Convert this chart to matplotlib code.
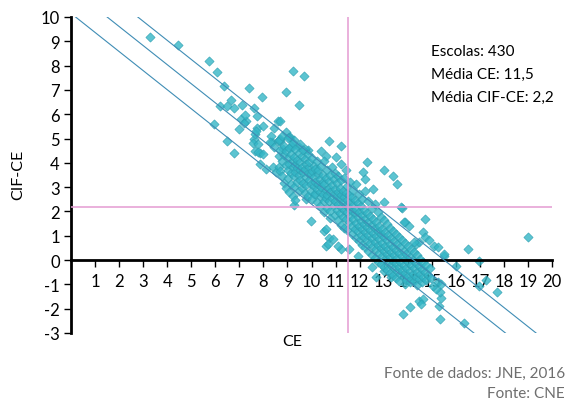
import matplotlib
matplotlib.use("Agg")
import matplotlib.pyplot as plt

plt.rcParams['font.family'] = ['Lato', 'DejaVu Sans']
plt.rcParams['axes.unicode_minus'] = False

# ---- data ----
sparse_ce = [3.28, 4.45, 5.74, 6.09, 6.35, 7.39, 7.93, 6.64, 6.21, 6.49, 6.78, 7.12, 7.62, 7.72,
             7.08, 7.26, 7.18, 5.96, 6.97, 7.75, 7.98, 8.42, 8.62, 6.49, 7.62, 7.57, 8.37, 8.59,
             9.25, 9.70, 8.95, 9.50, 8.67,
             6.78, 8.92, 7.63, 7.77, 7.63, 7.84, 8.33, 8.29, 8.42, 8.67, 8.81, 9.09, 9.17, 9.50, 9.85,
             10.72, 11.23, 10.40, 10.61, 11.02, 11.23, 11.44, 12.30, 13.00, 12.13, 12.23, 13.37, 13.55, 12.57,
             9.29, 9.78, 10.12, 8.12, 8.39, 8.54, 7.84, 7.77, 7.98,
             13.00, 13.75, 14.72, 13.90, 14.07, 14.65, 14.73, 14.34, 15.10, 15.52, 16.49, 16.97, 16.00,
             9.99, 10.54, 10.72, 10.61, 11.23, 11.58, 11.92, 10.68, 11.09, 10.88, 10.61,
             13.72, 13.86, 14.87, 14.48, 14.27, 15.24, 15.49, 19.00,
             16.97, 17.25, 17.70, 16.35, 15.35, 13.82, 14.10, 14.45, 14.62, 14.55, 15.31, 15.38, 15.35,
             15.17, 15.24, 15.04, 15.38,
             12.50, 13.00, 13.30, 12.70,
             7.22, 7.68, 8.67, 9.06, 9.27, 9.16, 9.71]
sparse_cifce = [9.19, 8.86, 8.20, 7.72, 7.15, 7.07, 6.72, 6.58, 6.35, 6.34, 6.24, 6.39, 6.26, 5.91,
                5.80, 5.73, 5.63, 5.60, 5.38, 5.42, 5.51, 5.44, 5.73, 4.91, 4.98, 4.81, 4.84, 4.91,
                7.76, 7.59, 6.93, 6.39, 5.73,
                4.40, 5.28, 5.19, 4.77, 4.50, 4.40, 5.12, 4.84, 4.64, 4.91, 4.57, 5.05, 4.64, 4.64, 4.54,
                4.91, 4.68, 4.50, 4.27, 4.23, 3.95, 3.72, 4.02, 3.72, 3.61, 3.33, 3.47, 3.13, 2.92,
                2.26, 2.51, 2.72, 3.74, 3.81, 3.63, 3.95, 4.43, 4.36,
                2.40, 2.13, 1.69, 1.58, 1.41, 1.16, 0.93, 0.66, 0.59, 0.18, 0.45, -0.03, -0.23,
                1.62, 1.21, 0.89, 0.59, 0.45, 0.45, 0.18, 0.66, 0.59, 0.86, 1.28,
                2.17, 1.55, 0.84, 0.75, 0.73, 0.55, 0.25, 0.95,
                -1.08, -0.81, -1.30, -2.59, -2.43, -2.22, -1.91, -1.67, -1.60, -1.81, -1.88, -1.54, -1.33,
                -1.19, -0.92, -1.06, -0.99,
                -0.30, -0.45, -0.70, -0.70,
                5.97, 5.32, 5.00, 5.05, 4.94, 4.70, 4.57]

# dense core, read column by column (CE value, CIF-CE values)
core_columns = [
    (8.63, [4.95, 4.28, 3.82]), (8.71, [4.52, 3.66]), (8.78, [5.12, 4.06, 3.45]),
    (8.86, [4.71, 4.33, 3.18]), (8.94, [4.47, 3.91, 2.95]), (9.02, [5.02, 4.18, 3.72, 3.38]),
    (9.08, [4.61, 3.97, 2.82]), (9.14, [4.36, 3.58, 3.12]), (9.21, [4.83, 4.07, 3.81, 2.64]),
    (9.27, [4.24, 3.46, 3.02]), (9.33, [4.58, 3.92, 3.64, 2.48]), (9.41, [4.12, 3.77, 3.21]),
    (9.46, [4.41, 3.52, 2.86]), (9.53, [4.05, 3.69, 3.31, 4.78]), (9.59, [4.29, 3.84, 2.97]),
    (9.66, [3.61, 3.16, 4.52]), (9.72, [4.17, 3.74, 2.74]), (9.79, [3.95, 3.43, 3.08]),
    (9.84, [4.36, 3.58, 2.63]), (9.91, [3.82, 3.29, 4.02]), (9.97, [3.54, 3.12, 2.85]),
    (10.03, [4.21, 3.68, 2.52]), (10.09, [3.41, 3.03, 3.89]), (10.16, [3.76, 3.22, 2.71]),
    (10.22, [4.08, 2.93, 2.38]), (10.28, [3.55, 3.14, 3.71]), (10.35, [3.33, 2.81, 2.24]),
    (10.41, [3.86, 3.02, 2.61]), (10.47, [3.48, 2.72, 3.21]), (10.54, [4.06, 3.11, 2.43, 1.98]),
    (10.60, [3.36, 2.89, 2.57]), (10.66, [3.69, 2.68, 2.13]), (10.73, [3.24, 2.96, 2.41]),
    (10.79, [3.52, 2.79, 2.02, 1.72]), (10.85, [3.08, 2.55, 3.81]), (10.92, [3.35, 2.71, 2.26]),
    (10.98, [2.93, 2.44, 1.86, 3.58]), (11.04, [3.17, 2.62, 2.08]), (11.11, [3.46, 2.81, 2.31, 1.63]),
    (11.17, [2.97, 2.52, 1.94]), (11.23, [3.28, 2.69, 2.18, 1.45]), (11.29, [2.86, 2.39, 1.79]),
    (11.36, [3.39, 2.61, 2.07, 1.32]), (11.42, [2.78, 2.27, 1.71]), (11.48, [3.05, 2.48, 1.96, 1.22]),
    (11.55, [2.69, 2.16, 1.58]), (11.61, [3.21, 2.37, 1.83]), (11.67, [2.58, 2.03, 1.41, 1.06]),
    (11.74, [2.89, 2.25, 1.67]), (11.80, [2.46, 1.92, 1.28]), (11.86, [3.12, 2.11, 1.54, 0.91]),
    (11.93, [2.34, 1.76, 1.18]), (11.99, [2.72, 1.97, 1.39, 0.78]), (12.05, [2.21, 1.62, 1.03]),
    (12.12, [2.53, 1.85, 1.27, 0.64]), (12.18, [2.08, 1.49, 0.96]), (12.24, [2.83, 1.71, 1.14, 0.52]),
    (12.31, [1.95, 1.36, 0.83]), (12.37, [2.41, 1.58, 1.02, 0.38]), (12.43, [1.83, 1.24, 0.71]),
    (12.50, [2.16, 1.45, 0.89, 0.21]), (12.56, [1.69, 1.11, 0.57]), (12.62, [2.32, 1.31, 0.76, 0.08]),
    (12.69, [1.56, 0.98, 0.44]), (12.75, [1.98, 1.19, 0.62, -0.06]), (12.81, [1.42, 0.85, 0.31]),
    (12.88, [1.77, 1.07, 0.49, -0.18]), (12.94, [1.29, 0.72, 0.17]), (13.00, [1.63, 0.93, 0.36, -0.29]),
    (13.07, [1.16, 0.59, 0.04]), (13.13, [1.47, 0.81, 0.23, -0.41]), (13.19, [1.03, 0.46, -0.09]),
    (13.26, [1.34, 0.68, 0.11, -0.52]), (13.32, [0.91, 0.33, -0.21]), (13.38, [1.21, 0.55, -0.02, -0.63]),
    (13.45, [0.78, 0.19, -0.34]), (13.51, [1.08, 0.42, -0.14, -0.74]), (13.57, [0.65, 0.07, -0.46]),
    (13.64, [0.96, 0.29, -0.27, -0.86]), (13.70, [0.52, -0.06, -0.58]), (13.76, [0.83, 0.16, -0.39]),
    (13.83, [0.39, -0.19, -0.71]), (13.89, [0.71, 0.03, -0.52, -0.97]), (13.95, [0.26, -0.31, -0.83]),
    (14.02, [0.58, -0.09, -0.64]), (14.08, [0.13, -0.44, -0.92]), (14.14, [0.45, -0.22, -0.76]),
    (14.21, [0.01, -0.56]), (14.27, [0.32, -0.34, -0.88]), (14.33, [-0.12, -0.68]),
    (14.40, [0.19, -0.47, -1.01]), (14.46, [-0.25, -0.79]), (14.52, [0.06, -0.59]),
    (14.59, [-0.38, -0.91]), (14.65, [-0.07, -0.71]), (14.71, [-0.51]),
    (14.78, [-0.19, -0.84]), (14.84, [-0.63]), (14.91, [-0.32]), (14.97, [-0.75]),
]

# reference lines (slope and intercepts)
line_slope = -0.785
line_intercepts = [10.15, 11.18, 12.18]
mean_ce = 11.5
mean_cifce = 2.2

info_lines = ["Escolas: 430", "Média CE: 11,5", "Média CIF-CE: 2,2"]

# ---- build ----
ce = list(sparse_ce)
cif = list(sparse_cifce)
for cx, ys in core_columns:
    for yv in ys:
        ce.append(cx)
        cif.append(yv)

fig = plt.figure(figsize=(5.67, 4.02), dpi=100)
ax = fig.add_axes([71/567, 1-334/402, (552-71)/567, (334-18)/402])

ax.scatter(ce, cif, marker='D', s=22, facecolor='#33B6C6', edgecolor='#2A9DB0',
           linewidths=0.5, alpha=0.8, zorder=2)

xs = [0, 20]
for b in line_intercepts:
    ax.plot(xs, [b + line_slope * v for v in xs], color='#3F8DB5', lw=0.8, zorder=3)

ax.axvline(mean_ce, color='#E49BD2', lw=1.1, zorder=4)
ax.axhline(mean_cifce, color='#E49BD2', lw=1.1, zorder=4)

ax.set_xlim(0, 20)
ax.set_ylim(-3, 10)
ax.spines['top'].set_visible(False)
ax.spines['right'].set_visible(False)
ax.spines['bottom'].set_position(('data', 0))
ax.spines['bottom'].set_linewidth(2)
ax.spines['left'].set_linewidth(2)
ax.set_xticks(range(1, 21))
ax.set_yticks(range(-3, 11))
ax.tick_params(axis='x', direction='out', length=5, width=1, labelsize=12, pad=4)
ax.tick_params(axis='y', direction='out', length=5, width=1, labelsize=12, pad=3)
ax.set_facecolor('none')

fig.text(18/567, 1-175/402, "CIF-CE", rotation=90, ha='center', va='center', fontsize=11.5)
fig.text(292/567, 1-342/402, "CE", ha='center', va='center', fontsize=11.5)

for i, t in enumerate(info_lines):
    fig.text(431/567, 1-(52 + i*23)/402, t, ha='left', va='center', fontsize=11)

fig.text(565/567, 1-374/402, "Fonte de dados: JNE, 2016", ha='right', va='center',
         fontsize=11, color='#6E6E6E')
fig.text(565/567, 1-394/402, "Fonte: CNE", ha='right', va='center',
         fontsize=11, color='#6E6E6E')

fig.savefig("out.png", dpi=100)
